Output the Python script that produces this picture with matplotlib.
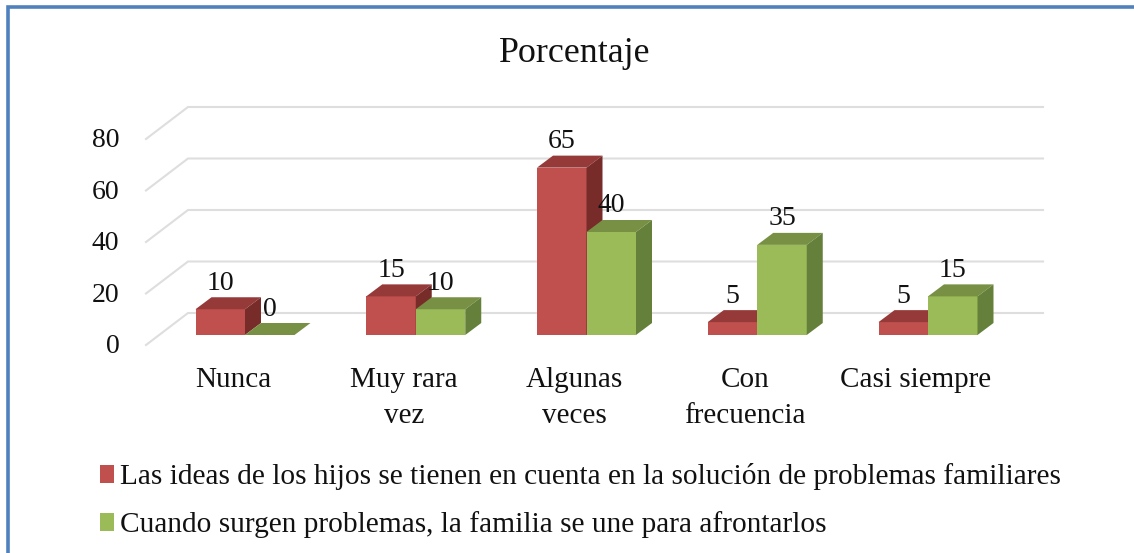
import matplotlib
matplotlib.use("Agg")
import matplotlib.pyplot as plt
from matplotlib.lines import Line2D
from matplotlib.patches import Patch

plt.rcParams['font.family'] = ['Liberation Serif', 'DejaVu Serif']

categories = ["Nunca", "Muy rara\nvez", "Algunas\nveces", "Con\nfrecuencia", "Casi siempre"]
ideas = [10, 15, 65, 5, 5]
problemas = [0, 10, 40, 35, 15]
y_ticks = [0, 20, 40, 60, 80]
legend_labels = ["Las ideas de los hijos se tienen en cuenta en la solución de problemas familiares",
                 "Cuando surgen problemas, la familia se une para afrontarlos"]

W, H = 1134, 553
X0, DX = 245.0, 170.75   # pixel of first group centre, pixels per category
Y0, DY = 335.0, 2.575    # pixel of value 0 at bar front, pixels per unit

fig = plt.figure(figsize=(W / 100, H / 100), dpi=100)
ax = fig.add_axes([0, 0, 1, 1])
ax.set_xlim((0 - X0) / DX, (W - X0) / DX)
ax.set_ylim((Y0 - H) / DY, Y0 / DY)
ax.axis("off")

# depth of the bars and of the floor, in data units
bar_w = 49.5 / DX
depth_x, depth_y = 16 / DX, 12 / DY
wall_x0 = (146 - X0) / DX
wall_x1 = (188 - X0) / DX
wall_x2 = (1043 - X0) / DX
floor_front = -10 / DY
floor_back = 22 / DY

for v in y_ticks:
    ax.plot([wall_x0, wall_x1, wall_x2], [v + floor_front, v + floor_back, v + floor_back],
            color="#DEDEDE", lw=1.5, solid_joinstyle="miter", zorder=1)
    ax.text((119.5 - X0) / DX, v + floor_front - 0.7, str(v), ha="right", va="center", fontsize=20, color="#111111")


def draw_bar(x, v, front, top, side):
    ax.bar(x, v, width=bar_w, align="edge", color=front, zorder=3)
    ax.fill([x, x + bar_w, x + bar_w + depth_x, x + depth_x],
            [v, v, v + depth_y, v + depth_y], color=top, lw=0, zorder=3)
    if v > 0:
        ax.fill([x + bar_w, x + bar_w + depth_x, x + bar_w + depth_x, x + bar_w],
                [0, depth_y, v + depth_y, v], color=side, lw=0, zorder=3)


for i in range(len(categories)):
    draw_bar(i - bar_w, ideas[i], "#C0504D", "#953A38", "#772C2A")
    draw_bar(i, problemas[i], "#9BBB59", "#779044", "#64803A")
    ax.text(i - bar_w / 2, ideas[i] + 26 / DY, str(ideas[i]), ha="center", va="center",
            fontsize=20, color="#111111", zorder=5)
    ax.text(i + bar_w / 2, problemas[i] + 26 / DY, str(problemas[i]), ha="center", va="center",
            fontsize=20, color="#111111", zorder=5)
    ax.text(i - 12 / DX, -32 / DY, categories[i], ha="center", va="top", fontsize=21,
            color="#111111", linespacing=1.5)

ax.text((575 - X0) / DX, (Y0 - 53) / DY, "Porcentaje", ha="center", va="center", fontsize=25.8, color="#111111")

handles = [Patch(facecolor="#C0504D", edgecolor="none"), Patch(facecolor="#9BBB59", edgecolor="none")]
fig.legend(handles, legend_labels, loc="upper left", bbox_to_anchor=(73.5 / W, 1 - 437 / H),
           frameon=False, fontsize=21.15, handlelength=0.48, handleheight=0.55, handletextpad=0.2,
           labelspacing=0.71, labelcolor="#111111")

# blue frame round the chart, only left and top are visible
fig.add_artist(Line2D([8 / W, 8 / W, 1], [0, 1 - 6.5 / H, 1 - 6.5 / H], color="#4F81BD", lw=2.6,
                      solid_joinstyle="miter"))

fig.savefig("out.png", dpi=100)
